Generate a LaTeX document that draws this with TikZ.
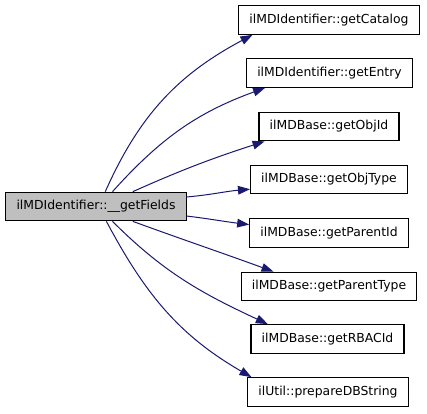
\documentclass[tikz,border=0pt]{standalone}
\usepackage{fontspec}
\setmainfont{DejaVu Sans}
\usetikzlibrary{arrows.meta}
\definecolor{edgeblue}{HTML}{191970}
\definecolor{boxgrey}{HTML}{BFBFBF}
\tikzset{
	fn/.style={draw=black, line width=0.8pt, fill=white, inner xsep=8pt, minimum height=21.5pt, font=\fontsize{9.3}{11}\selectfont},
	cur/.style={fn, fill=boxgrey},
	call/.style={draw=edgeblue, line width=0.75pt, -{Triangle[length=9pt,width=6.5pt]}}
}

\begin{document}
\begin{tikzpicture}[x=0.75pt, y=-0.75pt]
	\useasboundingbox (0,0) rectangle (427,413);
	\node[cur] (fields) at (96,206.5) {ilMDIdentifier::\_\_getFields};
	\node[fn] (catalog) at (329,20) {ilMDIdentifier::getCatalog};
	\node[fn] (entry) at (329.5,73) {ilMDIdentifier::getEntry};
	\node[fn] (objid) at (329,126.5) {ilMDBase::getObjId};
	\node[fn] (objtype) at (329,179.5) {ilMDBase::getObjType};
	\node[fn] (parentid) at (329,233) {ilMDBase::getParentId};
	\node[fn] (parenttype) at (329,286.5) {ilMDBase::getParentType};
	\node[fn] (rbacid) at (327.5,339) {ilMDBase::getRBACId};
	\node[fn] (dbstring) at (328,392) {ilUtil::prepareDBString};
	\draw[call] (fields.58) to[out=66,in=208] (catalog.191);
	\draw[call] (fields.42) to[out=48,in=200] (entry.193);
	\draw[call] (fields.22) to[out=24,in=198] (objid.193);
	\draw[call] (fields.6.6) to[out=5,in=185] (objtype.187);
	\draw[call] (fields.-6.6) to[out=-7,in=173] (parentid.174);
	\draw[call] (fields.-22) to[out=-20,in=160] (parenttype.165);
	\draw[call] (fields.-42) to[out=-45,in=155] (rbacid.166);
	\draw[call] (fields.-55) to[out=-62,in=150] (dbstring.169);
\end{tikzpicture}
\end{document}
